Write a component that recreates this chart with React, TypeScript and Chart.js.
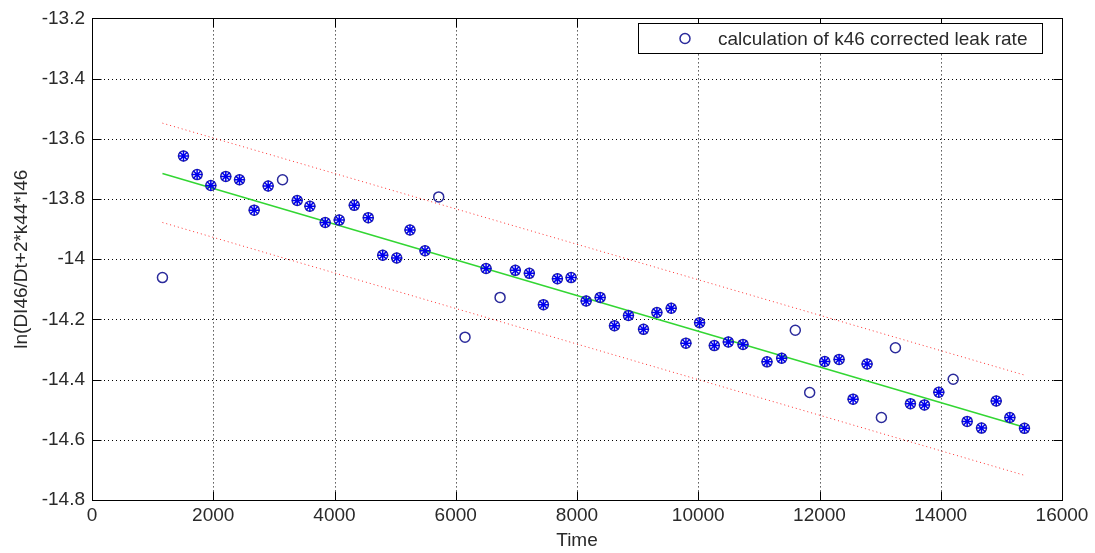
import React, { useEffect, useRef } from "react";
import { Chart, registerables } from "chart.js";

Chart.register(...registerables);

// ---- data ----
const times = [
  1162, 1509, 1734, 1960, 2207, 2433, 2675, 2906, 3143, 3385,
  3594, 3847, 4078, 4326, 4557, 4795, 5026, 5245, 5493, 5719,
  6153, 6500, 6731, 6983, 7214, 7446, 7677, 7903, 8151, 8382,
  8618, 8849, 9097, 9318, 9554, 9797, 10022, 10265, 10496, 10738,
  11134, 11376, 11601, 11838, 12086, 12323, 12554, 12785, 13021, 13252,
  13500, 13731, 13968, 14205, 14436, 14672, 14915, 15140, 15381,
];
const lnValues = [
  -14.061, -13.657, -13.719, -13.755, -13.725, -13.736, -13.837, -13.757, -13.736, -13.805,
  -13.824, -13.878, -13.870, -13.821, -13.862, -13.987, -13.996, -13.903, -13.972, -13.793,
  -14.259, -14.031, -14.127, -14.037, -14.047, -14.151, -14.065, -14.061, -14.139, -14.127,
  -14.221, -14.187, -14.233, -14.177, -14.163, -14.279, -14.211, -14.287, -14.275, -14.283,
  -14.341, -14.329, -14.236, -14.443, -14.340, -14.333, -14.465, -14.348, -14.526, -14.294,
  -14.480, -14.484, -14.442, -14.399, -14.539, -14.561, -14.471, -14.526, -14.562,
];
// indices of points drawn as plain circles (no asterisk)
const outlierIndices = [0, 8, 19, 20, 22, 42, 43, 48, 49, 53];

const fitTimes = [1162, 15381];
const fitValues = [-13.715, -14.558];
const upperValues = [-13.548, -14.385];
const lowerValues = [-13.878, -14.718];

const xTicks = [0, 2000, 4000, 6000, 8000, 10000, 12000, 14000, 16000];
const yTicks = [-14.8, -14.6, -14.4, -14.2, -14, -13.8, -13.6, -13.4, -13.2];
const yTickLabels = ["-14.8", "-14.6", "-14.4", "-14.2", "-14", "-13.8", "-13.6", "-13.4", "-13.2"];

const legendLabel = "calculation of k46 corrected leak rate";
const xTitle = "Time";
const yTitle = "ln(DI46/Dt+2*k44*I46";

const FONT = "'Liberation Sans', Arial, Helvetica, sans-serif";
const TEXT = "#2a2a2a";

export default function App() {
  const ref = useRef<HTMLCanvasElement>(null);

  useEffect(() => {
    document.body.style.margin = "0";
    const canvas = ref.current;
    if (!canvas) return;

    const allPts = times.map((t, i) => ({ x: t, y: lnValues[i] }));
    const inliers = allPts.filter((_, i) => !outlierIndices.includes(i));
    const fit = fitTimes.map((t, i) => ({ x: t, y: fitValues[i] }));
    const upper = fitTimes.map((t, i) => ({ x: t, y: upperValues[i] }));
    const lower = fitTimes.map((t, i) => ({ x: t, y: lowerValues[i] }));

    const gridPlugin = {
      id: "matlabGrid",
      beforeDatasetsDraw(chart: any) {
        const { ctx, chartArea: a, scales } = chart;
        ctx.save();
        ctx.strokeStyle = "#000";
        ctx.lineWidth = 1;
        ctx.setLineDash([1, 3]);
        xTicks.forEach((v) => {
          const px = Math.round(scales.x.getPixelForValue(v)) + 0.5;
          if (px <= a.left + 1 || px >= a.right - 1) return;
          ctx.beginPath();
          ctx.moveTo(px, a.top);
          ctx.lineTo(px, a.bottom);
          ctx.stroke();
        });
        yTicks.forEach((v) => {
          const py = Math.round(scales.y.getPixelForValue(v)) + 0.5;
          if (py <= a.top + 1 || py >= a.bottom - 1) return;
          ctx.beginPath();
          ctx.moveTo(a.left, py);
          ctx.lineTo(a.right, py);
          ctx.stroke();
        });
        ctx.restore();
      },
      afterDraw(chart: any) {
        const { ctx, chartArea: a, scales } = chart;
        ctx.save();
        ctx.strokeStyle = "#000";
        ctx.lineWidth = 1;
        ctx.setLineDash([]);
        const L = Math.round(a.left) + 0.5;
        const R = Math.round(a.right) + 0.5;
        const T = Math.round(a.top) + 0.5;
        const B = Math.round(a.bottom) + 0.5;
        ctx.strokeRect(L, T, R - L, B - T);
        const tl = 9;
        ctx.beginPath();
        xTicks.forEach((v) => {
          const px = Math.round(scales.x.getPixelForValue(v)) + 0.5;
          ctx.moveTo(px, B);
          ctx.lineTo(px, B - tl);
          ctx.moveTo(px, T);
          ctx.lineTo(px, T + tl);
        });
        yTicks.forEach((v) => {
          const py = Math.round(scales.y.getPixelForValue(v)) + 0.5;
          ctx.moveTo(L, py);
          ctx.lineTo(L + tl, py);
          ctx.moveTo(R, py);
          ctx.lineTo(R - tl, py);
        });
        ctx.stroke();

        // legend box
        const lx = 638.5, ly = 23.5, lw = 404, lh = 30;
        ctx.fillStyle = "#fff";
        ctx.fillRect(lx, ly, lw, lh);
        ctx.strokeRect(lx, ly, lw, lh);
        ctx.beginPath();
        ctx.strokeStyle = "#2b2b9c";
        ctx.lineWidth = 1.5;
        ctx.arc(685, ly + lh / 2, 5, 0, Math.PI * 2);
        ctx.stroke();
        ctx.fillStyle = TEXT;
        ctx.font = `19px ${FONT}`;
        ctx.textBaseline = "middle";
        ctx.textAlign = "left";
        ctx.fillText(legendLabel, 718, ly + lh / 2 + 1);
        ctx.restore();
      },
    };

    const chart = new Chart(canvas, {
      type: "scatter",
      data: {
        datasets: [
          {
            label: "stars",
            data: inliers,
            pointStyle: "star",
            pointRadius: 5.5,
            borderColor: "#0000ee",
            backgroundColor: "#0000ee",
            borderWidth: 1.5,
            order: 0,
          },
          {
            label: legendLabel,
            data: allPts,
            pointStyle: "circle",
            pointRadius: 5,
            borderColor: "#2b2b9c",
            backgroundColor: "rgba(0,0,0,0)",
            borderWidth: 1.5,
            order: 1,
          },
          {
            label: "fit",
            data: fit,
            showLine: true,
            borderColor: "#33d633",
            borderWidth: 1.5,
            pointRadius: 0,
            order: 2,
          },
          {
            label: "upper",
            data: upper,
            showLine: true,
            borderColor: "#ff3030",
            borderWidth: 1,
            borderDash: [1, 3],
            pointRadius: 0,
            order: 3,
          },
          {
            label: "lower",
            data: lower,
            showLine: true,
            borderColor: "#ff3030",
            borderWidth: 1,
            borderDash: [1, 3],
            pointRadius: 0,
            order: 3,
          },
        ],
      },
      options: {
        responsive: false,
        animation: false,
        layout: { padding: { top: 12, right: 33, left: 0, bottom: 0 } },
        plugins: {
          legend: { display: false },
          tooltip: { enabled: false },
        },
        scales: {
          x: {
            type: "linear",
            min: 0,
            max: 16000,
            afterBuildTicks: (s: any) => {
              s.ticks = xTicks.map((v) => ({ value: v }));
            },
            afterFit: (s: any) => {
              s.height = 53;
            },
            grid: { display: false, drawTicks: false, tickLength: 0 },
            border: { display: false },
            ticks: {
              autoSkip: false,
              maxRotation: 0,
              padding: 4,
              color: TEXT,
              font: { family: FONT, size: 19 },
              callback: (v: any) => String(v),
            },
            title: {
              display: true,
              text: xTitle,
              color: TEXT,
              font: { family: FONT, size: 19 },
              padding: { top: 0, bottom: 1 },
            },
          },
          y: {
            type: "linear",
            min: -14.8,
            max: -13.2,
            afterBuildTicks: (s: any) => {
              s.ticks = yTicks.map((v) => ({ value: v }));
            },
            afterFit: (s: any) => {
              s.width = 92;
            },
            grid: { display: false, drawTicks: false, tickLength: 0 },
            border: { display: false },
            ticks: {
              autoSkip: false,
              padding: 7,
              color: TEXT,
              font: { family: FONT, size: 19 },
              callback: (_v: any, i: number) => yTickLabels[i],
            },
            title: {
              display: true,
              text: yTitle,
              color: TEXT,
              font: { family: FONT, size: 19 },
              padding: { top: 10, bottom: 0 },
            },
          },
        },
      },
      plugins: [gridPlugin],
    });

    return () => chart.destroy();
  }, []);

  return (
    <div style={{ width: 1095, height: 553, background: "#fff" }}>
      <canvas ref={ref} width={1095} height={553} style={{ display: "block" }} />
    </div>
  );
}
